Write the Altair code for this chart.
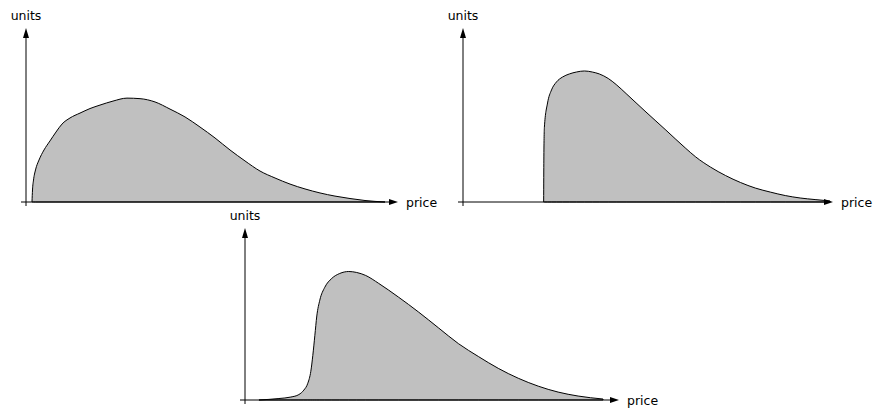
import altair as alt
import pandas as pd

# ---------------- data (price along x, units along y) ----------------
p1_price = [0.161, 0.175, 0.202, 0.255, 0.349, 0.484, 0.645, 0.806, 0.968, 1.183, 1.452, 1.720, 1.989, 2.339,
            2.715, 3.065, 3.468, 3.871, 4.274, 4.677, 5.081, 5.484, 5.887, 6.290, 6.694, 7.097, 7.500, 7.903,
            8.306, 8.710, 9.113, 9.651]
p1_units = [0.0, 0.069, 0.126, 0.184, 0.241, 0.299, 0.351, 0.402, 0.448, 0.483, 0.511, 0.537, 0.557, 0.580,
            0.597, 0.594, 0.575, 0.534, 0.489, 0.431, 0.368, 0.299, 0.236, 0.178, 0.138, 0.103, 0.075, 0.052,
            0.034, 0.020, 0.0086, 0.0]

p2_price = [2.18, 2.185, 2.20, 2.285, 2.392, 2.527, 2.688, 2.876, 3.065, 3.280, 3.495, 3.683, 3.925, 4.140,
            4.409, 4.677, 4.946, 5.215, 5.484, 5.753, 6.022, 6.290, 6.694, 7.097, 7.500, 7.903, 8.306, 8.710,
            9.113, 9.516, 9.919]
p2_units = [0.0, 0.241, 0.431, 0.569, 0.644, 0.690, 0.718, 0.736, 0.747, 0.753, 0.747, 0.736, 0.710, 0.675,
            0.623, 0.570, 0.517, 0.465, 0.413, 0.360, 0.308, 0.259, 0.200, 0.152, 0.112, 0.080, 0.057, 0.037,
            0.023, 0.014, 0.006]

p3_price = [0.373, 0.907, 1.227, 1.440, 1.573, 1.680, 1.760, 1.813, 1.867, 1.920, 2.000, 2.133, 2.320, 2.533,
            2.773, 2.987, 3.227, 3.573, 4.107, 4.640, 5.173, 5.707, 6.240, 6.773, 7.307, 7.840, 8.373, 8.907,
            9.573]
p3_units = [0.0, 0.0086, 0.0172, 0.0316, 0.0575, 0.0977, 0.1667, 0.2586, 0.3736, 0.4885, 0.5805, 0.6552,
            0.7069, 0.7356, 0.7471, 0.7414, 0.7241, 0.6782, 0.5977, 0.5115, 0.4195, 0.3276, 0.2529, 0.1839,
            0.1264, 0.0805, 0.046, 0.023, 0.0057]

x_label = "price"
y_label = "units"

# ---------------- layout ----------------
W, H = 865, 401
FONT = "DejaVu Sans"
FS = 12.5

panels = [
    dict(price=p1_price, units=p1_units, ox=18, oy=194, kx=37.2, ky=174),
    dict(price=p2_price, units=p2_units, ox=455, oy=194, kx=37.0, ky=174),
    dict(price=p3_price, units=p3_units, ox=237, oy=392, kx=37.4, ky=172),
]

UP = "M0,0 L-0.6,2 L0.6,2 Z"
RIGHT = "M0,0 L-1.8,-0.6 L-1.8,0.6 Z"

layers = []
for p in panels:
    xs = alt.Scale(domain=[(0 - p["ox"]) / p["kx"], (W - p["ox"]) / p["kx"]], zero=False, nice=False)
    ys = alt.Scale(domain=[(p["oy"] - H) / p["ky"], p["oy"] / p["ky"]], zero=False, nice=False)

    curve = pd.DataFrame({"price": p["price"], "units": p["units"]})
    area = alt.Chart(curve).mark_area(
        fill="#c0c0c0", stroke="black", strokeWidth=1, interpolate="monotone"
    ).encode(
        x=alt.X("price:Q", scale=xs, axis=None),
        y=alt.Y("units:Q", scale=ys, axis=None),
    )

    xaxis = alt.Chart(pd.DataFrame({"a": [-5 / p["kx"]], "b": [9.9], "y": [0.0]})).mark_rule(
        color="black", strokeWidth=1
    ).encode(
        x=alt.X("a:Q", scale=xs, axis=None), x2="b:Q",
        y=alt.Y("y:Q", scale=ys, axis=None),
    )
    yaxis = alt.Chart(pd.DataFrame({"x": [0.0], "a": [-4 / p["ky"]], "b": [0.98]})).mark_rule(
        color="black", strokeWidth=1
    ).encode(
        x=alt.X("x:Q", scale=xs, axis=None),
        y=alt.Y("a:Q", scale=ys, axis=None), y2="b:Q",
    )

    xarrow = alt.Chart(pd.DataFrame({"x": [10.0], "y": [0.0]})).mark_point(
        shape=RIGHT, size=100, filled=True, color="black", opacity=1
    ).encode(
        x=alt.X("x:Q", scale=xs, axis=None),
        y=alt.Y("y:Q", scale=ys, axis=None),
    )
    yarrow = alt.Chart(pd.DataFrame({"x": [0.0], "y": [1.0]})).mark_point(
        shape=UP, size=100, filled=True, color="black", opacity=1
    ).encode(
        x=alt.X("x:Q", scale=xs, axis=None),
        y=alt.Y("y:Q", scale=ys, axis=None),
    )

    ytext = alt.Chart(pd.DataFrame({"x": [0.0], "y": [1.0], "t": [y_label]})).mark_text(
        font=FONT, fontSize=FS, align="center", baseline="alphabetic", dy=-8, color="black"
    ).encode(
        x=alt.X("x:Q", scale=xs, axis=None),
        y=alt.Y("y:Q", scale=ys, axis=None),
        text="t:N",
    )
    xtext = alt.Chart(pd.DataFrame({"x": [10.0], "y": [0.0], "t": [x_label]})).mark_text(
        font=FONT, fontSize=FS, align="left", baseline="alphabetic", dx=8, dy=5, color="black"
    ).encode(
        x=alt.X("x:Q", scale=xs, axis=None),
        y=alt.Y("y:Q", scale=ys, axis=None),
        text="t:N",
    )

    layers += [area, xaxis, yaxis, xarrow, yarrow, ytext, xtext]

chart = alt.layer(*layers).resolve_scale(x="independent", y="independent").properties(
    width=W, height=H, padding=0, autosize=alt.AutoSizeParams(type="none")
).configure_view(stroke=None)

chart.save("out.html", embed_options={"renderer": "svg", "actions": False})
